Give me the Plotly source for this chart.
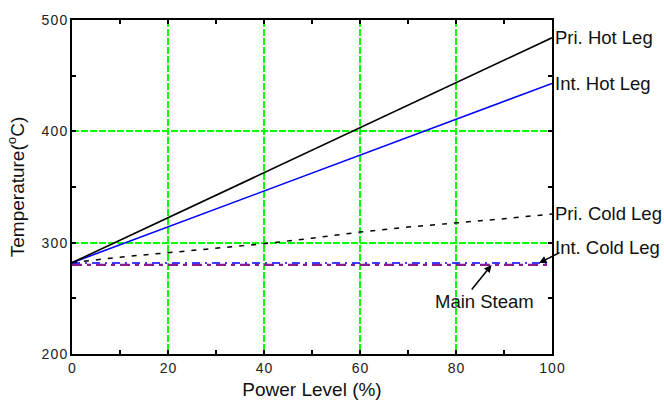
import plotly.graph_objects as go

# Power level (%) and temperatures (deg C)
power = [0, 10, 20, 30, 40, 50, 60, 70, 80, 90, 100]
pri_hot = [282, 302.2, 322.4, 342.6, 362.8, 383, 403.2, 423.4, 443.6, 463.8, 484]
int_hot = [282, 298.1, 314.2, 330.3, 346.4, 362.5, 378.6, 394.7, 410.8, 426.9, 443]
pri_cold = [282, 287, 291, 295, 299, 304, 309.5, 314, 317.5, 321.5, 325.8]
int_cold = [281.8, 281.8, 281.8, 281.8, 281.8, 281.8, 281.8, 281.8, 281.8, 281.8, 281.8]
main_steam = [280, 280, 280, 280, 280, 280, 280, 280, 280, 280, 280]

x_ticks = [0, 20, 40, 60, 80, 100]
y_ticks = [200, 300, 400, 500]

FONT = "Liberation Sans, Arial, sans-serif"
HAIR = "\u200a"


def spaced(v):
    # tick labels are drawn with a little extra letter spacing
    return HAIR.join(str(v))


fig = go.Figure()
fig.add_trace(go.Scatter(x=power, y=main_steam, mode="lines",
                         line=dict(color="#8b1a8b", width=2.2, dash="10px,5px,4px,5px")))
fig.add_trace(go.Scatter(x=power, y=int_cold, mode="lines",
                         line=dict(color="#0000ff", width=1.6, dash="8px,5px,2px,5px")))
fig.add_trace(go.Scatter(x=power, y=pri_cold, mode="lines",
                         line=dict(color="#000000", width=1.5, dash="5px,7px")))
fig.add_trace(go.Scatter(x=power, y=int_hot, mode="lines",
                         line=dict(color="#0000ff", width=1.6)))
fig.add_trace(go.Scatter(x=power, y=pri_hot, mode="lines",
                         line=dict(color="#000000", width=1.6)))

LABEL_FONT = dict(family=FONT, size=18.5, color="#111")

# Series labels on the right side
labels = [("Pri. Hot Leg", pri_hot[-1]), ("Int. Hot Leg", int_hot[-1]),
          ("Pri. Cold Leg", pri_cold[-1])]
for text, yv in labels:
    fig.add_annotation(x=100, y=yv, xref="x", yref="y", text=text, showarrow=False,
                       xanchor="left", yanchor="middle", xshift=1, font=LABEL_FONT)

fig.add_annotation(x=97.3, y=int_cold[-1], xref="x", yref="y", text="",
                   showarrow=True, arrowhead=2, arrowsize=1, arrowwidth=1.5,
                   arrowcolor="black", ax=22, ay=-11, axref="pixel", ayref="pixel")
fig.add_annotation(x=100, y=int_cold[-1], xref="x", yref="y", text="Int. Cold Leg",
                   showarrow=False, xanchor="left", yanchor="middle", xshift=1, yshift=15,
                   font=LABEL_FONT)
fig.add_annotation(x=87.4, y=main_steam[-1], xref="x", yref="y", text="",
                   showarrow=True, arrowhead=2, arrowsize=1, arrowwidth=1.5,
                   arrowcolor="black", ax=-21, ay=26, axref="pixel", ayref="pixel")
fig.add_annotation(x=86, y=main_steam[-1], xref="x", yref="y", text="Main Steam",
                   showarrow=False, xanchor="center", yanchor="middle", yshift=-37,
                   font=LABEL_FONT)

axis_common = dict(showline=True, linecolor="black", linewidth=2, mirror="ticks",
                   ticks="inside", ticklen=4, tickwidth=1.5, tickcolor="black",
                   showgrid=True, gridcolor="#00ff00", gridwidth=1.5, griddash="7px,2px",
                   zeroline=False, tickfont=dict(family=FONT, size=14, color="#222"))

fig.update_xaxes(range=[0, 100], tickvals=x_ticks, ticktext=[spaced(v) for v in x_ticks],
                 minor=dict(dtick=10, ticks="inside", ticklen=4, tickcolor="black",
                            showgrid=False),
                 title=dict(text="Power Level (%)", font=dict(family=FONT, size=19, color="#111"),
                            standoff=8),
                 **axis_common)
fig.update_yaxes(range=[200, 500], tickvals=y_ticks, ticktext=[spaced(v) for v in y_ticks],
                 minor=dict(dtick=50, ticks="inside", ticklen=4, tickcolor="black",
                            showgrid=False),
                 title=dict(text="Temperature(<sup>o</sup>C)",
                            font=dict(family=FONT, size=19, color="#111"), standoff=12),
                 **axis_common)

fig.update_layout(width=664, height=414, showlegend=False,
                  plot_bgcolor="white", paper_bgcolor="white",
                  margin=dict(l=72, r=112, t=16, b=60))

fig.write_html("out.html")
